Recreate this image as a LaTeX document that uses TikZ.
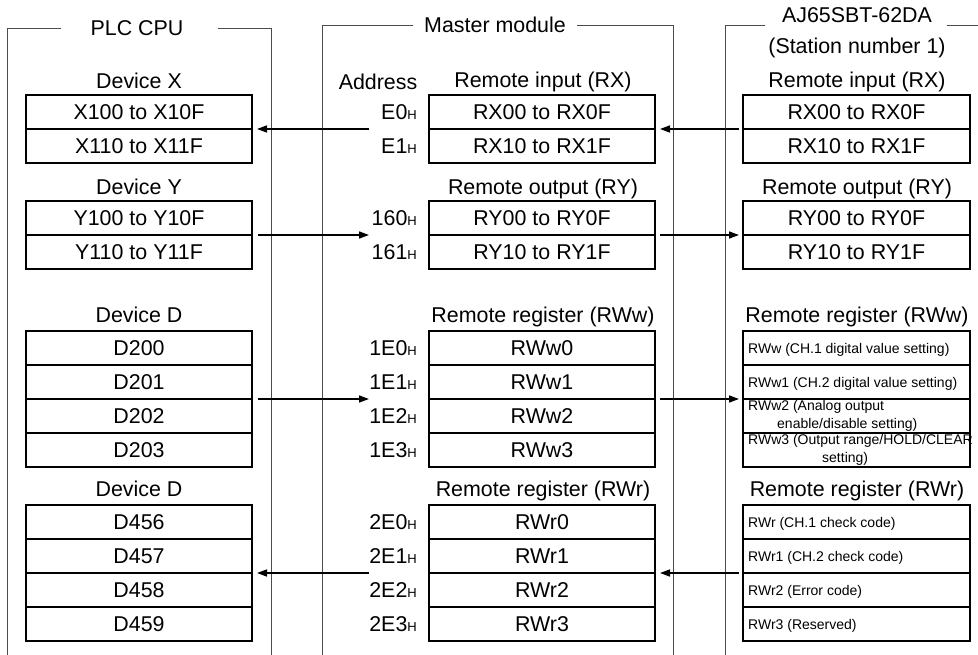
\documentclass[tikz,border=0pt]{standalone}
\usepackage{fontspec}
\setmainfont{Liberation Sans}
\usetikzlibrary{arrows.meta}
\newcommand\Hsfx{{\fontsize{13}{13}\selectfont H}}
\tikzset{
  frame/.style={line width=0.9pt, draw=black!70},
  lbl/.style={inner sep=0pt, font=\fontsize{21.4}{24}\selectfont, text height=15.3pt, text depth=0pt},
  cell/.style={draw, line width=1.8pt, minimum width=226pt, minimum height=34pt, inner sep=0pt, outer sep=0pt,
    font=\fontsize{21.4}{24}\selectfont, text height=15.3pt, text depth=0pt},
  small/.style={inner sep=0pt, anchor=west, font=\fontsize{14}{16}\selectfont, text height=10pt, text depth=0pt},
  addr/.style={lbl, anchor=east},
  link/.style={line width=1.5pt, -{Triangle[length=10pt,width=7pt]}},
}
\begin{document}
\begin{tikzpicture}[x=1pt,y=-1pt]
\useasboundingbox (0,0) rectangle (978,655);
% frames
\draw[frame] (7.5,655) -- (7.5,28) -- (61,28);
\draw[frame] (218,28) -- (271,28) -- (271,655);
\node[lbl] (tplc) at (137,28) {PLC CPU};
\draw[frame] (322,655) -- (322,25) -- (413,25);
\draw[frame] (577,25) -- (673,25) -- (673,655);
\node[lbl] (tmas) at (495,25) {Master module};
\draw[frame] (725,655) -- (725,25) -- (765,25);
\draw[frame] (947,25) -- (978,25);
\node[lbl] (tst1) at (857,15) {AJ65SBT-62DA};
\node[lbl] (tst2) at (857,46) {(Station number 1)};

% PLC column
\node[lbl] (ldx) at (139,81) {Device X};
\node[cell] (px1) at (139,112) {X100 to X10F};
\node[cell] (px2) at (139,146) {X110 to X11F};
\node[lbl] (ldy) at (139,187) {Device Y};
\node[cell] (py1) at (139,218) {Y100 to Y10F};
\node[cell] (py2) at (139,252) {Y110 to Y11F};
\node[lbl] (ldd) at (139,315) {Device D};
\node[cell] (pd1) at (139,348) {D200};
\node[cell] (pd2) at (139,382) {D201};
\node[cell] (pd3) at (139,416) {D202};
\node[cell] (pd4) at (139,450) {D203};
\node[lbl] (ldr) at (139,489) {Device D};
\node[cell] (pr1) at (139,522) {D456};
\node[cell] (pr2) at (139,556) {D457};
\node[cell] (pr3) at (139,590) {D458};
\node[cell] (pr4) at (139,624) {D459};

% Master column
\node[lbl] (laddr) at (378,82) {Address};
\node[lbl] (lmx) at (543,80) {Remote input (RX)};
\node[cell] (mx1) at (542,112) {RX00 to RX0F};
\node[cell] (mx2) at (542,146) {RX10 to RX1F};
\node[addr] (ax1) at (417,112) {E0\Hsfx};
\node[addr] (ax2) at (417,146) {E1\Hsfx};
\node[lbl] (lmy) at (543,187) {Remote output (RY)};
\node[cell] (my1) at (542,218) {RY00 to RY0F};
\node[cell] (my2) at (542,252) {RY10 to RY1F};
\node[addr] (ay1) at (417,218) {160\Hsfx};
\node[addr] (ay2) at (417,252) {161\Hsfx};
\node[lbl] (lmw) at (543,315) {Remote register (RWw)};
\node[cell] (mw1) at (542,348) {RWw0};
\node[cell] (mw2) at (542,382) {RWw1};
\node[cell] (mw3) at (542,416) {RWw2};
\node[cell] (mw4) at (542,450) {RWw3};
\node[addr] (aw1) at (417,348) {1E0\Hsfx};
\node[addr] (aw2) at (417,382) {1E1\Hsfx};
\node[addr] (aw3) at (417,416) {1E2\Hsfx};
\node[addr] (aw4) at (417,450) {1E3\Hsfx};
\node[lbl] (lmr) at (543,489) {Remote register (RWr)};
\node[cell] (mr1) at (542,522) {RWr0};
\node[cell] (mr2) at (542,556) {RWr1};
\node[cell] (mr3) at (542,590) {RWr2};
\node[cell] (mr4) at (542,624) {RWr3};
\node[addr] (ar1) at (417,522) {2E0\Hsfx};
\node[addr] (ar2) at (417,556) {2E1\Hsfx};
\node[addr] (ar3) at (417,590) {2E2\Hsfx};
\node[addr] (ar4) at (417,624) {2E3\Hsfx};

% Station column
\node[lbl] (lsx) at (857,80) {Remote input (RX)};
\node[cell, minimum width=227pt] (sx1) at (856.5,112) {RX00 to RX0F};
\node[cell, minimum width=227pt] (sx2) at (856.5,146) {RX10 to RX1F};
\node[lbl] (lsy) at (857,187) {Remote output (RY)};
\node[cell, minimum width=227pt] (sy1) at (856.5,218) {RY00 to RY0F};
\node[cell, minimum width=227pt] (sy2) at (856.5,252) {RY10 to RY1F};
\node[lbl] (lsw) at (857,315) {Remote register (RWw)};
\node[cell, minimum width=227pt] (sw1) at (856.5,348) {};
\node[cell, minimum width=227pt] (sw2) at (856.5,382) {};
\node[cell, minimum width=227pt] (sw3) at (856.5,416) {};
\node[cell, minimum width=227pt] (sw4) at (856.5,450) {};
\node[small] (tw1) at (748,348) {RWw (CH.1 digital value setting)};
\node[small] (tw2) at (748,382) {RWw1 (CH.2 digital value setting)};
\node[small] (tw3a) at (748,405) {RWw2 (Analog output};
\node[small] (tw3b) at (777,423) {enable/disable setting)};
\node[small] (tw4a) at (748,439) {RWw3 (Output range/HOLD/CLEAR};
\node[small] (tw4b) at (822,457) {setting)};
\node[lbl] (lsr) at (857,489) {Remote register (RWr)};
\node[cell, minimum width=227pt] (sr1) at (856.5,522) {};
\node[cell, minimum width=227pt] (sr2) at (856.5,556) {};
\node[cell, minimum width=227pt] (sr3) at (856.5,590) {};
\node[cell, minimum width=227pt] (sr4) at (856.5,624) {};
\node[small] (tr1) at (748,522) {RWr (CH.1 check code)};
\node[small] (tr2) at (748,556) {RWr1 (CH.2 check code)};
\node[small] (tr3) at (748,590) {RWr2 (Error code)};
\node[small] (tr4) at (748,624) {RWr3 (Reserved)};

% connector free ends at the address column
\coordinate (ex) at (369,129);
\coordinate (ey) at (369,235);
\coordinate (ew) at (369,399);
\coordinate (er) at (369,573);

% arrows
\draw[link] (ex) -- ([xshift=5pt]px1.south east);
\draw[link] ([xshift=-4pt]sx1.south west) -- ([xshift=5pt]mx1.south east);
\draw[link] ([xshift=6pt]py1.south east) -- (ey);
\draw[link] ([xshift=5pt]my1.south east) -- ([xshift=-4pt]sy1.south west);
\draw[link] ([xshift=6pt]pd2.south east) -- (ew);
\draw[link] ([xshift=5pt]mw2.south east) -- ([xshift=-4pt]sw2.south west);
\draw[link] (er) -- ([xshift=5pt]pr2.south east);
\draw[link] ([xshift=-4pt]sr2.south west) -- ([xshift=5pt]mr2.south east);
\end{tikzpicture}
\end{document}
